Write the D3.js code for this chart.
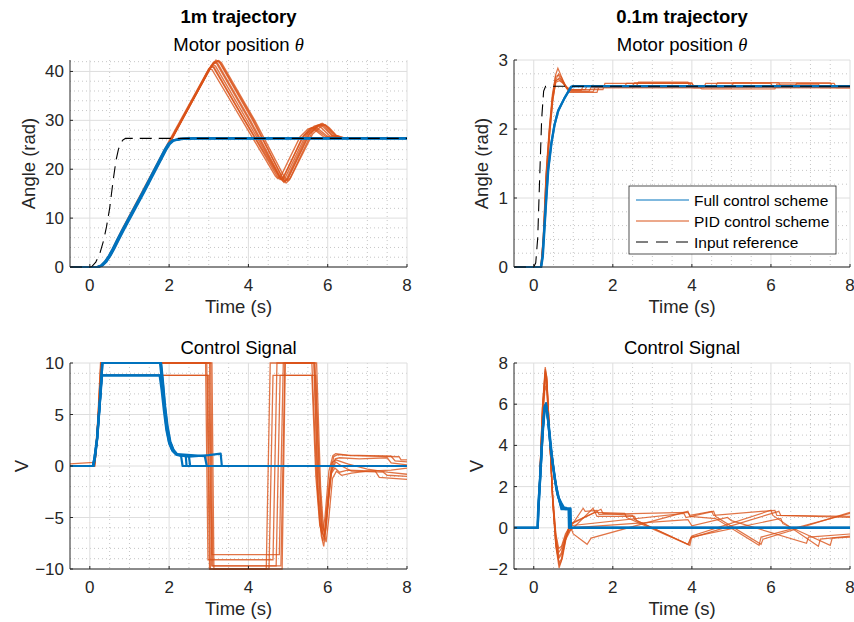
<!DOCTYPE html>
<html><head><meta charset="utf-8">
<script src="https://cdn.jsdelivr.net/npm/d3@7"></script>
<style>
body{margin:0;background:#fff;}
svg{display:block;font-family:"Liberation Sans",Arial,Helvetica,sans-serif;}
</style></head><body>
<svg id="chart" width="854" height="622"></svg>
<script>
// ---- data (time in s) ----
const timeTicks = [0, 2, 4, 6, 8];
const angle1mTicks = [0, 10, 20, 30, 40];
const angle01mTicks = [0, 1, 2, 3];
const volt1mTicks = [-10, -5, 0, 5, 10];
const volt01mTicks = [-2, 0, 2, 4, 6, 8];

const legendLabels = ["Full control scheme", "PID control scheme", "Input reference"];

// 1m trajectory - motor position
const posRef1m = [[-0.5,0],[0,0],[0.05,0.1],[0.15,1.0],[0.25,2.7],[0.35,5.5],[0.42,8.2],[0.5,12.0],[0.59,17.8],[0.66,21.8],[0.72,24.0],[0.78,25.4],[0.84,26.0],[0.9,26.3],[8,26.3]];
const posFull1m = [
  [[-0.5,0],[0.2,0],[0.3,0.3],[0.4,1.1],[0.5,2.3],[0.6,3.8],[0.7,5.4],[0.84,7.6],[1.35,15.3],[1.9,23.9],[2.0,25.2],[2.1,25.9],[2.3,26.2],[2.6,26.3],[8,26.3]],
  [[-0.5,0],[0.22,0],[0.32,0.3],[0.42,1.1],[0.52,2.3],[0.62,3.8],[0.72,5.4],[0.86,7.6],[1.37,15.3],[1.92,23.9],[2.02,25.2],[2.12,25.9],[2.35,26.2],[2.7,26.3],[8,26.3]],
  [[-0.5,0],[0.18,0],[0.28,0.3],[0.38,1.1],[0.48,2.3],[0.58,3.8],[0.68,5.4],[0.82,7.6],[1.33,15.3],[1.88,23.9],[1.98,25.2],[2.08,25.85],[2.28,26.2],[2.6,26.3],[8,26.3]]
];
const posPid1m = [
  [[-0.5,0],[0.2,0],[0.3,0.3],[0.4,1.1],[0.5,2.3],[0.6,3.8],[0.7,5.4],[0.84,7.7],[1.35,15.4],[2.0,25.3],[3.0,40.3],[3.12,41.9],[3.2,41.6],[4.0,30.3],[4.8,18.3],[4.88,17.5],[4.96,18.0],[5.5,27.3],[5.72,28.9],[5.8,29.1],[5.9,28.6],[6.1,26.9],[6.3,26.4],[6.6,26.3],[8,26.3]],
  [[-0.5,0],[0.18,0],[0.28,0.3],[0.38,1.1],[0.48,2.3],[0.58,3.8],[0.68,5.5],[0.82,7.8],[1.33,15.6],[1.98,25.5],[2.95,39.8],[3.05,41.0],[3.12,40.8],[3.9,30.0],[4.72,18.6],[4.8,17.9],[4.88,18.4],[5.4,26.9],[5.6,28.5],[5.68,28.7],[5.8,28.0],[6.0,26.7],[6.2,26.35],[6.5,26.3],[8,26.3]],
  [[-0.5,0],[0.22,0],[0.32,0.3],[0.42,1.1],[0.52,2.3],[0.62,3.8],[0.72,5.4],[0.86,7.7],[1.37,15.4],[2.02,25.4],[3.05,40.8],[3.18,42.3],[3.26,42.0],[4.1,30.1],[4.88,18.0],[4.95,17.2],[5.03,17.8],[5.6,27.5],[5.78,29.1],[5.86,29.4],[5.96,28.8],[6.15,27.0],[6.35,26.45],[6.7,26.3],[8,26.3]],
  [[-0.5,0],[0.2,0],[0.3,0.3],[0.4,1.1],[0.5,2.2],[0.6,3.7],[0.7,5.3],[0.84,7.6],[1.35,15.3],[2.0,25.2],[2.98,39.9],[3.1,41.4],[3.17,41.1],[3.98,29.8],[4.78,18.5],[4.85,17.8],[4.93,18.3],[5.45,27.0],[5.66,28.8],[5.75,29.0],[5.85,28.4],[6.05,26.8],[6.25,26.4],[6.6,26.3],[8,26.3]],
  [[-0.5,0],[0.21,0],[0.31,0.3],[0.41,1.1],[0.51,2.3],[0.61,3.8],[0.71,5.5],[0.85,7.8],[1.36,15.5],[2.01,25.5],[3.08,41.2],[3.22,42.1],[3.3,41.7],[4.12,30.2],[4.85,18.3],[4.92,17.6],[5.0,18.1],[5.55,27.3],[5.8,29.0],[5.9,29.2],[6.0,28.6],[6.2,26.9],[6.4,26.4],[6.7,26.3],[8,26.3]],
  [[-0.5,0],[0.19,0],[0.29,0.3],[0.39,1.1],[0.49,2.3],[0.59,3.8],[0.69,5.4],[0.83,7.7],[1.34,15.4],[1.99,25.3],[2.94,39.5],[3.06,41.2],[3.13,40.9],[3.88,30.4],[4.75,18.7],[4.82,18.0],[4.9,18.5],[5.35,26.4],[5.55,28.3],[5.65,28.5],[5.75,27.9],[5.95,26.7],[6.15,26.35],[6.5,26.3],[8,26.3]],
  [[-0.5,0],[0.2,0],[0.3,0.3],[0.4,1.1],[0.5,2.3],[0.6,3.8],[0.7,5.4],[0.84,7.7],[1.35,15.4],[2.0,25.4],[3.02,40.5],[3.15,42.0],[3.22,41.7],[4.05,30.0],[4.83,18.1],[4.9,17.3],[4.98,17.9],[5.52,27.1],[5.74,28.9],[5.83,29.2],[5.93,28.7],[6.12,26.9],[6.32,26.4],[6.6,26.3],[8,26.3]],
  [[-0.5,0],[0.21,0],[0.31,0.3],[0.41,1.1],[0.51,2.3],[0.61,3.8],[0.71,5.5],[0.85,7.8],[1.36,15.5],[2.01,25.5],[3.1,41.6],[3.25,42.2],[3.32,41.8],[4.16,30.0],[4.92,18.2],[4.98,17.7],[5.06,18.2],[5.62,27.2],[5.85,28.9],[5.94,29.1],[6.04,28.5],[6.22,26.9],[6.42,26.4],[6.7,26.3],[8,26.3]],
  [[-0.5,0],[0.19,0],[0.29,0.3],[0.39,1.1],[0.49,2.3],[0.59,3.8],[0.69,5.4],[0.83,7.7],[1.34,15.4],[1.99,25.3],[2.9,38.9],[3.0,40.6],[3.08,40.4],[3.82,30.3],[4.68,18.6],[4.74,18.1],[4.82,18.6],[5.3,26.6],[5.5,28.2],[5.6,28.5],[5.7,27.9],[5.9,26.6],[6.1,26.35],[6.4,26.3],[8,26.3]]
];

// 0.1m trajectory - motor position
const posRef01m = [[-0.5,0],[0,0],[0.05,0.06],[0.1,0.42],[0.15,1.3],[0.2,2.15],[0.25,2.55],[0.3,2.62],[8,2.62]];
const posFull01m = [
  [[-0.5,0],[0.18,0],[0.22,0.15],[0.27,0.6],[0.31,0.97],[0.36,1.4],[0.44,1.78],[0.52,2.05],[0.61,2.25],[0.77,2.44],[0.94,2.61],[1.0,2.62],[8,2.62]],
  [[-0.5,0],[0.19,0],[0.23,0.15],[0.28,0.62],[0.32,1.0],[0.37,1.42],[0.45,1.8],[0.53,2.07],[0.62,2.27],[0.78,2.45],[0.95,2.61],[1.0,2.62],[8,2.62]]
];
const posPid01m = [
  [[-0.5,0],[0.18,0],[0.24,0.4],[0.31,1.3],[0.39,1.95],[0.47,2.45],[0.55,2.78],[0.61,2.88],[0.67,2.8],[0.74,2.7],[0.82,2.6],[0.9,2.53],[1.6,2.53],[1.65,2.62],[2.5,2.62],[2.55,2.67],[4.0,2.67],[4.05,2.6],[8,2.6]],
  [[-0.5,0],[0.19,0],[0.25,0.4],[0.32,1.25],[0.4,1.9],[0.48,2.4],[0.56,2.72],[0.63,2.8],[0.7,2.75],[0.78,2.66],[0.86,2.58],[0.95,2.55],[1.4,2.55],[1.45,2.6],[4.3,2.6],[4.35,2.66],[6.0,2.66],[6.05,2.6],[8,2.6]],
  [[-0.5,0],[0.18,0],[0.24,0.45],[0.31,1.35],[0.39,2.0],[0.47,2.5],[0.55,2.76],[0.62,2.78],[0.7,2.72],[0.78,2.64],[0.88,2.58],[1.0,2.57],[1.75,2.57],[1.8,2.66],[3.95,2.66],[4.0,2.6],[5.0,2.6],[5.05,2.67],[7.5,2.67],[7.55,2.62],[8,2.62]],
  [[-0.5,0],[0.19,0],[0.25,0.42],[0.32,1.3],[0.4,1.95],[0.48,2.45],[0.56,2.7],[0.64,2.74],[0.72,2.7],[0.8,2.62],[0.9,2.56],[1.2,2.56],[1.25,2.62],[2.3,2.62],[2.35,2.66],[4.0,2.66],[4.05,2.62],[4.6,2.62],[4.65,2.67],[6.2,2.67],[6.25,2.62],[8,2.62]],
  [[-0.5,0],[0.18,0],[0.24,0.4],[0.31,1.3],[0.39,1.95],[0.47,2.45],[0.55,2.7],[0.63,2.72],[0.72,2.68],[0.82,2.6],[0.92,2.54],[1.5,2.54],[1.55,2.6],[4.2,2.6],[4.25,2.58],[6.1,2.58],[6.15,2.65],[7.2,2.65],[7.25,2.6],[8,2.6]],
  [[-0.5,0],[0.19,0],[0.25,0.4],[0.32,1.28],[0.4,1.92],[0.48,2.42],[0.56,2.68],[0.65,2.7],[0.75,2.66],[0.85,2.6],[0.95,2.57],[1.3,2.57],[1.35,2.63],[2.6,2.63],[2.65,2.68],[3.9,2.68],[3.95,2.61],[6.6,2.61],[6.65,2.66],[7.6,2.66],[7.65,2.6],[8,2.6]]
];

// 1m trajectory - control signal (V)
const ctrlFull1m = [
  [[-0.5,0],[0.08,0],[0.12,0.8],[0.18,2.5],[0.25,6.0],[0.31,10],[1.77,10],[1.82,8.2],[1.87,6.0],[1.93,3.8],[2.0,2.3],[2.08,1.5],[2.18,1.15],[2.3,1.0],[2.34,0],[8,0]],
  [[-0.5,0],[0.09,0],[0.13,0.8],[0.19,2.8],[0.26,6.5],[0.3,8.8],[1.78,8.8],[1.83,7.5],[1.89,5.5],[1.95,3.6],[2.02,2.2],[2.1,1.45],[2.2,1.1],[2.42,1.0],[2.44,0],[8,0]],
  [[-0.5,0],[0.08,0],[0.12,0.9],[0.18,2.6],[0.25,6.2],[0.32,10],[1.8,10],[1.85,8.0],[1.9,5.8],[1.96,3.9],[2.03,2.4],[2.12,1.5],[2.22,1.05],[2.5,0.9],[3.0,1.05],[3.3,1.2],[3.33,0],[8,0]],
  [[-0.5,0],[0.09,0],[0.13,0.8],[0.19,2.7],[0.26,6.4],[0.31,8.8],[1.76,8.8],[1.81,7.4],[1.87,5.3],[1.93,3.5],[2.0,2.2],[2.08,1.5],[2.18,1.1],[2.5,0.95],[2.53,0],[8,0]],
  [[-0.5,0],[0.08,0],[0.12,0.85],[0.18,2.6],[0.25,6.1],[0.32,10],[1.79,10],[1.84,8.1],[1.89,5.9],[1.95,3.9],[2.02,2.4],[2.1,1.6],[2.2,1.15],[2.9,0.95],[2.95,0],[8,0]]
];
const ctrlPid1m = [
  [[-0.5,0.2],[0.1,0.35],[0.14,1.2],[0.2,4.5],[0.27,10],[2.95,10],[3.02,-10],[4.45,-10],[4.55,10],[5.6,10],[5.72,-1],[5.8,-5.5],[5.88,-7.3],[5.95,-6.2],[6.05,-1.5],[6.15,0.9],[6.25,1.1],[6.6,1.0],[7.8,0.9],[7.85,0.6],[8,0.6]],
  [[-0.5,0],[0.12,0],[0.16,1.5],[0.22,5],[0.29,8.8],[3.0,8.8],[3.07,-9.7],[4.7,-9.7],[4.8,8.8],[5.7,8.8],[5.8,-2],[5.87,-6.0],[5.92,-6.3],[6.0,-3],[6.1,0.3],[6.2,0.6],[6.5,0.2],[7.0,-0.3],[7.5,-0.6],[8,-0.8]],
  [[-0.5,0],[0.11,0],[0.15,1.3],[0.21,4.8],[0.28,10],[2.92,10],[2.98,-9.1],[4.62,-9.1],[4.72,10],[5.65,10],[5.75,-2.5],[5.84,-6.8],[5.9,-7.8],[5.97,-5.5],[6.08,-0.8],[6.18,-0.2],[6.3,-0.6],[6.5,-0.4],[7.2,-0.5],[7.3,-1.1],[8,-1.3]],
  [[-0.5,0],[0.12,0],[0.16,1.4],[0.22,5.2],[0.29,10],[3.02,10],[3.08,-8.6],[4.78,-8.6],[4.88,10],[5.68,10],[5.78,-1.5],[5.86,-6.5],[5.92,-7.0],[6.0,-4],[6.1,-0.5],[6.2,0.4],[6.35,0.0],[6.6,-0.5],[7.4,-0.6],[7.5,-0.9],[8,-1.0]],
  [[-0.5,0],[0.11,0],[0.15,1.2],[0.21,4.6],[0.28,8.8],[2.97,8.8],[3.04,-10],[4.52,-10],[4.62,8.8],[5.6,8.8],[5.7,-1.0],[5.8,-5.8],[5.86,-6.6],[5.93,-5.0],[6.03,-0.5],[6.13,1.0],[6.2,1.2],[6.5,1.05],[7.6,0.95],[7.7,0.5],[8,0.4]],
  [[-0.5,0],[0.12,0],[0.16,1.5],[0.22,5.1],[0.3,10],[3.05,10],[3.1,-9.7],[4.82,-9.7],[4.92,10],[5.72,10],[5.82,-2],[5.9,-6.4],[5.96,-7.4],[6.03,-5],[6.12,-1.2],[6.22,-0.5],[6.35,-0.9],[6.6,-0.7],[7.0,-0.5],[7.6,-0.4],[8,-0.2]],
  [[-0.5,0],[0.11,0],[0.15,1.3],[0.21,4.9],[0.28,10],[3.08,10],[3.13,-10],[4.85,-10],[4.93,10],[5.66,10],[5.76,-2.2],[5.85,-6.2],[5.91,-6.9],[5.99,-4.2],[6.09,-0.6],[6.19,0.7],[6.3,0.8],[6.8,0.7],[7.5,0.8],[7.6,0.3],[8,0.1]]
];

// 0.1m trajectory - control signal (V)
const ctrlFull01m = [
  [[-0.5,0],[0.1,0],[0.11,0.9],[0.16,2.5],[0.22,4.6],[0.27,5.8],[0.31,6.05],[0.35,5.5],[0.42,4.0],[0.5,2.8],[0.58,1.8],[0.65,1.3],[0.7,0.9],[0.92,0.9],[0.93,0],[8,0]],
  [[-0.5,0],[0.1,0],[0.12,0.9],[0.17,2.6],[0.23,4.8],[0.28,5.9],[0.31,6.0],[0.36,5.3],[0.44,3.7],[0.52,2.5],[0.6,1.6],[0.67,1.2],[0.72,1.0],[0.8,0.9],[0.9,0.9],[0.91,0],[8,0]],
  [[-0.5,0],[0.1,0],[0.11,0.9],[0.16,2.4],[0.22,4.4],[0.27,5.6],[0.3,5.9],[0.34,5.6],[0.41,4.2],[0.49,3.0],[0.57,2.0],[0.63,1.5],[0.68,1.1],[0.75,0.95],[0.88,0.9],[0.89,0],[8,0]],
  [[-0.5,0],[0.1,0],[0.12,0.9],[0.17,2.7],[0.23,4.9],[0.28,5.95],[0.32,5.8],[0.38,5.0],[0.46,3.5],[0.54,2.3],[0.62,1.5],[0.7,1.2],[0.76,1.0],[0.85,0.95],[0.93,0.95],[0.94,0],[8,0]]
];
const ctrlPid01m = [
  [[-0.5,0],[0.1,0],[0.15,2.4],[0.22,5.9],[0.29,7.8],[0.33,7.3],[0.4,4.6],[0.48,1.3],[0.56,-0.9],[0.64,-1.95],[0.7,-1.6],[0.8,-0.6],[0.9,0.05],[0.95,0.1],[1.25,0.95],[1.3,0.8],[1.6,0.85],[1.65,0.65],[3.9,0.75],[3.95,0.6],[4.5,0.8],[4.55,0.6],[6.1,0.85],[6.15,0.6],[8,0.55]],
  [[-0.5,0],[0.1,0],[0.15,2.3],[0.22,5.6],[0.29,7.5],[0.33,7.1],[0.4,4.5],[0.48,1.4],[0.56,-0.6],[0.63,-1.5],[0.7,-1.3],[0.8,-0.5],[0.9,-0.1],[0.95,-0.1],[1.5,0.95],[1.55,0.75],[2.3,0.7],[2.35,0.5],[3.95,-0.85],[4.0,-0.4],[6.0,0.85],[6.05,0.6],[7.2,-0.9],[7.25,-0.55],[8,-0.4]],
  [[-0.5,0],[0.1,0],[0.15,2.2],[0.22,5.3],[0.29,7.2],[0.33,6.8],[0.4,4.4],[0.48,1.5],[0.56,-0.4],[0.63,-1.2],[0.7,-1.0],[0.8,-0.4],[0.92,0.15],[1.7,0.9],[1.75,0.7],[2.5,0.6],[2.55,0.4],[3.9,-0.8],[3.97,-0.5],[6.2,0.8],[6.25,0.6],[8,0.5]],
  [[-0.5,0],[0.1,0],[0.15,2.35],[0.22,5.8],[0.29,7.6],[0.33,7.2],[0.4,4.5],[0.48,1.2],[0.56,-0.8],[0.64,-1.7],[0.7,-1.5],[0.8,-0.6],[0.95,-0.05],[1.0,-0.3],[1.35,-0.8],[1.45,-0.5],[3.9,0.8],[3.95,0.55],[4.6,0.45],[5.7,-0.85],[5.75,-0.45],[8,0.7]],
  [[-0.5,0],[0.1,0],[0.15,2.1],[0.22,5.1],[0.29,6.9],[0.33,6.6],[0.4,4.3],[0.48,1.6],[0.56,-0.3],[0.63,-1.0],[0.7,-0.9],[0.8,-0.3],[0.92,0.1],[3.8,0.7],[3.85,0.5],[4.55,0.8],[4.6,0.55],[5.75,-0.8],[5.8,-0.55],[8,0.75]],
  [[-0.5,0],[0.1,0],[0.15,2.3],[0.22,5.5],[0.29,7.4],[0.33,7.0],[0.4,4.5],[0.48,1.3],[0.56,-0.6],[0.64,-1.4],[0.7,-1.2],[0.8,-0.5],[0.95,0.0],[3.9,0.4],[4.0,0.1],[4.9,0.5],[5.0,0.35],[6.9,-0.75],[6.95,-0.45],[8,-0.3]],
  [[-0.5,0],[0.1,0],[0.15,2.4],[0.22,5.8],[0.29,7.7],[0.33,7.3],[0.4,4.6],[0.48,1.2],[0.56,-0.9],[0.65,-1.8],[0.72,-1.5],[0.82,-0.5],[0.92,0.2],[1.55,0.75],[1.6,0.55],[2.55,0.55],[2.6,0.35],[3.92,-0.82],[3.98,-0.45],[6.25,0.45],[6.3,0.2],[7.5,-0.85],[7.55,-0.5],[8,-0.45]]
];

// ---- drawing ----
const BLUE = '#0072BD', ORANGE = '#D95319', INK = '#262626';
const svg = d3.select('#chart');

const panels = [
  { id: 'a', left: 70, right: 407, top: 60, bottom: 267, yDomain: [0, 42.34], yTicks: angle1mTicks, yMinor: 2,
    head: '1m trajectory', title: 'Motor position ', theta: true, ylabel: 'Angle (rad)', ylabelX: 35,
    pid: posPid1m, full: posFull1m, ref: posRef1m, pidWidth: 1.4 },
  { id: 'b', left: 514, right: 850, top: 60, bottom: 267, yDomain: [0, 3], yTicks: angle01mTicks, yMinor: 0.2,
    head: '0.1m trajectory', title: 'Motor position ', theta: true, ylabel: 'Angle (rad)', ylabelX: 488,
    pid: posPid01m, full: posFull01m, ref: posRef01m, legend: true, pidWidth: 1.2 },
  { id: 'c', left: 70, right: 407, top: 363, bottom: 569, yDomain: [-10, 10], yTicks: volt1mTicks, yMinor: 1,
    title: 'Control Signal', ylabel: 'V', ylabelX: 28, pid: ctrlPid1m, full: ctrlFull1m, pidWidth: 1.3 },
  { id: 'd', left: 514, right: 850, top: 363, bottom: 569, yDomain: [-2, 8], yTicks: volt01mTicks, yMinor: 0.5,
    title: 'Control Signal', ylabel: 'V', ylabelX: 483, pid: ctrlPid01m, full: ctrlFull01m, pidWidth: 1.2 }
];

function drawPanel(p) {
  const x = d3.scaleLinear().domain([-0.5, 8]).range([p.left, p.right]);
  const y = d3.scaleLinear().domain(p.yDomain).range([p.bottom, p.top]);
  const g = svg.append('g');
  const cx = (p.left + p.right) / 2;

  g.append('clipPath').attr('id', 'clip-' + p.id)
    .append('rect').attr('x', p.left - 1).attr('y', p.top - 2)
    .attr('width', p.right - p.left + 2).attr('height', p.bottom - p.top + 4);

  // minor grid (dotted)
  const xMinor = d3.range(-0.5, 8.001, 0.5).filter(v => !timeTicks.includes(v) && v > -0.5);
  const yMinor = d3.range(p.yDomain[0], p.yDomain[1] + 1e-6, p.yMinor)
    .map(v => +v.toFixed(4)).filter(v => !p.yTicks.includes(v) && v > p.yDomain[0]);
  const minor = g.append('g').attr('stroke', '#b8b8b8').attr('stroke-width', 0.8).attr('stroke-dasharray', '1,3');
  minor.selectAll('.mx').data(xMinor).join('line')
    .attr('x1', d => x(d)).attr('x2', d => x(d)).attr('y1', p.top).attr('y2', p.bottom);
  minor.selectAll('.my').data(yMinor).join('line')
    .attr('y1', d => y(d)).attr('y2', d => y(d)).attr('x1', p.left).attr('x2', p.right);

  // major grid
  const major = g.append('g').attr('stroke', '#dedede').attr('stroke-width', 1);
  major.selectAll('.gx').data(timeTicks).join('line')
    .attr('x1', d => x(d)).attr('x2', d => x(d)).attr('y1', p.top).attr('y2', p.bottom);
  major.selectAll('.gy').data(p.yTicks).join('line')
    .attr('y1', d => y(d)).attr('y2', d => y(d)).attr('x1', p.left).attr('x2', p.right);

  // traces
  const line = d3.line().x(d => x(d[0])).y(d => y(d[1]));
  const plot = g.append('g').attr('clip-path', `url(#clip-${p.id})`).attr('fill', 'none');
  plot.append('g').selectAll('path').data(p.pid).join('path')
    .attr('d', line).attr('stroke', ORANGE).attr('stroke-width', p.pidWidth).attr('stroke-opacity', 0.8);
  plot.append('g').selectAll('path').data(p.full).join('path')
    .attr('d', line).attr('stroke', BLUE).attr('stroke-width', 2.2).attr('stroke-linejoin', 'round');
  if (p.ref) {
    plot.append('path').datum(p.ref).attr('d', line)
      .attr('stroke', '#000').attr('stroke-width', 1.1).attr('stroke-dasharray', '12,7');
  }

  // axes lines and ticks
  g.append('line').attr('x1', p.left).attr('x2', p.right).attr('y1', p.bottom).attr('y2', p.bottom)
    .attr('stroke', INK).attr('stroke-width', 1);
  g.append('line').attr('x1', p.left).attr('x2', p.left).attr('y1', p.top).attr('y2', p.bottom)
    .attr('stroke', INK).attr('stroke-width', 1);
  g.selectAll('.tx').data(timeTicks).join('line')
    .attr('x1', d => x(d)).attr('x2', d => x(d)).attr('y1', p.bottom).attr('y2', p.bottom - 3)
    .attr('stroke', INK);
  g.selectAll('.ty').data(p.yTicks).join('line')
    .attr('y1', d => y(d)).attr('y2', d => y(d)).attr('x1', p.left).attr('x2', p.left + 3)
    .attr('stroke', INK);

  const fmt = d3.format('');
  g.selectAll('.lx').data(timeTicks).join('text')
    .attr('x', d => x(d)).attr('y', p.bottom + 24).attr('text-anchor', 'middle')
    .attr('font-size', 17).attr('fill', INK).text(d => fmt(d));
  g.selectAll('.ly').data(p.yTicks).join('text')
    .attr('x', p.left - 6).attr('y', d => y(d) + 6).attr('text-anchor', 'end')
    .attr('font-size', 17).attr('fill', INK).text(d => fmt(d));

  g.append('text').attr('x', cx).attr('y', p.bottom + 46).attr('text-anchor', 'middle')
    .attr('font-size', 18.5).attr('fill', INK).text('Time (s)');
  g.append('text').attr('transform', `translate(${p.ylabelX},${(p.top + p.bottom) / 2}) rotate(-90)`)
    .attr('text-anchor', 'middle').attr('font-size', 18.5).attr('fill', INK).text(p.ylabel);

  // titles
  if (p.head) {
    g.append('text').attr('x', cx).attr('y', 23).attr('text-anchor', 'middle')
      .attr('font-size', 18.5).attr('font-weight', 'bold').attr('fill', '#000').text(p.head);
  }
  const t = g.append('text').attr('x', cx).attr('y', p.top - 9).attr('text-anchor', 'middle')
    .attr('font-size', 18.5).attr('fill', '#000').text(p.title);
  if (p.theta) {
    t.append('tspan').attr('font-family', '"Liberation Serif","Times New Roman",serif')
      .attr('font-style', 'italic').text('θ');
  }

  if (p.legend) drawLegend(g);
}

function drawLegend(g) {
  const lx = 629, ly = 186, w = 207, h = 68;
  const lg = g.append('g');
  lg.append('rect').attr('x', lx).attr('y', ly).attr('width', w).attr('height', h)
    .attr('fill', '#fff').attr('stroke', INK).attr('stroke-width', 0.8);
  const styles = [
    { stroke: BLUE, dash: null },
    { stroke: ORANGE, dash: null },
    { stroke: '#000', dash: '12,8' }
  ];
  legendLabels.forEach((lab, i) => {
    const yy = ly + 14 + i * 21;
    lg.append('line').attr('x1', lx + 7).attr('x2', lx + 60).attr('y1', yy).attr('y2', yy)
      .attr('stroke', styles[i].stroke).attr('stroke-width', 1)
      .attr('stroke-dasharray', styles[i].dash);
    lg.append('text').attr('x', lx + 65).attr('y', yy + 5.5).attr('font-size', 15.5)
      .attr('fill', '#000').text(lab);
  });
}

panels.forEach(drawPanel);
</script>
</body></html>
